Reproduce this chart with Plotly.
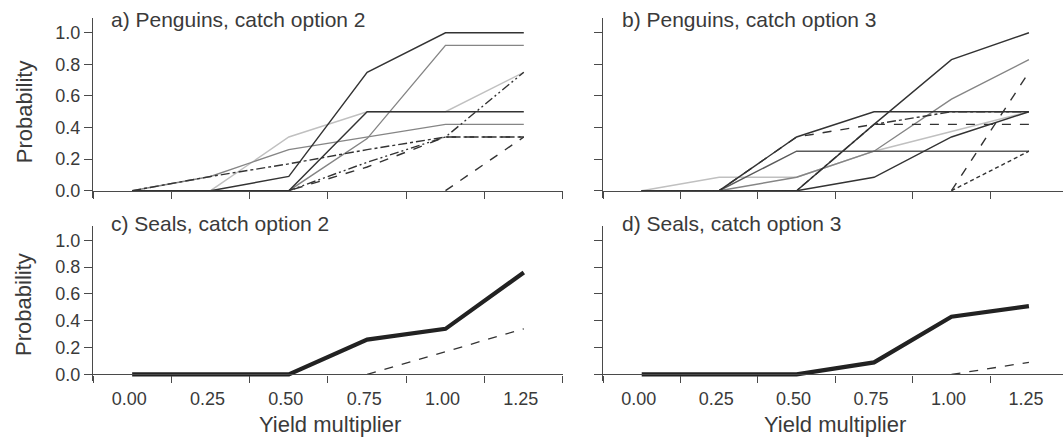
import plotly.graph_objects as go

# ---------------- data ----------------
yield_mult = [0.0, 0.25, 0.5, 0.75, 1.0, 1.25]
x_tick_labels = ["0.00", "0.25", "0.50", "0.75", "1.00", "1.25"]
y_tick_vals = [0.0, 0.2, 0.4, 0.6, 0.8, 1.0]

panel_titles = ["a) Penguins, catch option 2", "b) Penguins, catch option 3",
                "c) Seals, catch option 2", "d) Seals, catch option 3"]

# panel a: Penguins, catch option 2
pa_light1 = [0, 0, 0.34, 0.50, 0.50, 0.75]
pa_gray1 = [0, 0.09, 0.26, 0.34, 0.42, 0.42]
pa_gray2 = [0, 0, 0, 0.33, 0.92, 0.92]
pa_dark1 = [0, 0, 0.09, 0.75, 1.00, 1.00]
pa_dark2 = [0, 0, 0, 0.50, 0.50, 0.50]
pa_dashdot = [0, 0.09, 0.17, 0.26, 0.34, 0.34]
pa_dashdotdot = [0, 0, 0, 0.18, 0.34, 0.75]
pa_dash1 = [0, 0, 0, 0.15, 0.34, 0.34]
pa_dash2 = [None, None, None, None, 0, 0.34]

# panel b: Penguins, catch option 3
pb_light1 = [0, 0.085, 0.085, 0.25, 0.375, 0.50]
pb_gray1 = [0, 0, 0.085, 0.25, 0.58, 0.83]
pb_gray2 = [0, 0, 0.25, 0.25, 0.25, 0.25]
pb_dark1 = [0, 0, 0.34, 0.50, 0.50, 0.50]
pb_dark2 = [0, 0, 0, 0.42, 0.83, 1.00]
pb_dark3 = [0, 0, 0, 0.085, 0.34, 0.50]
pb_dashdot = [0, 0, 0, 0.42, 0.50, 0.50]
pb_dash1 = [0, 0, 0.34, 0.42, 0.42, 0.42]
pb_dash2 = [None, None, None, None, 0, 0.75]
pb_dot = [None, None, None, None, 0, 0.25]

# panel c: Seals, catch option 2
pc_thick = [0, 0, 0, 0.26, 0.34, 0.76]
pc_dash = [None, None, None, 0, 0.17, 0.34]

# panel d: Seals, catch option 3
pd_thick = [0, 0, 0, 0.09, 0.43, 0.51]
pd_dash = [None, None, None, None, 0, 0.09]

# ---------------- styles ----------------
DARK = "#333333"
GRAY = "#858585"
LIGHT = "#c0c0c0"
AXC = "#4a4a4a"
TXT = "#3a3a3a"
FONT = "Liberation Sans, Arial, sans-serif"
DASHDOTDOT = "9px,3px,2px,3px,2px,3px"

fig = go.Figure()

def add(y, axis, color, width=1.4, dash="solid"):
    xa, ya = axis
    fig.add_trace(go.Scatter(x=yield_mult, y=y, mode="lines",
                             line=dict(color=color, width=width, dash=dash),
                             xaxis=xa, yaxis=ya, showlegend=False,
                             hoverinfo="skip", connectgaps=False))

A = ("x", "y"); B = ("x2", "y2"); C = ("x3", "y3"); D = ("x4", "y4")

add(pa_light1, A, LIGHT)
add(pa_gray1, A, GRAY)
add(pa_gray2, A, GRAY)
add(pa_dark2, A, DARK)
add(pa_dark1, A, DARK)
add(pa_dashdot, A, DARK, dash="dashdot")
add(pa_dashdotdot, A, DARK, dash=DASHDOTDOT)
add(pa_dash1, A, DARK, dash="dash")
add(pa_dash2, A, DARK, dash="dash")

add(pb_light1, B, LIGHT)
add(pb_gray1, B, GRAY)
add(pb_gray2, B, "#5a5a5a")
add(pb_dark1, B, DARK)
add(pb_dark2, B, DARK)
add(pb_dark3, B, DARK)
add(pb_dashdot, B, DARK, dash="dashdot")
add(pb_dash1, B, DARK, dash="dash")
add(pb_dash2, B, DARK, dash="dash")
add(pb_dot, B, DARK, dash="4px,3px")

add(pc_dash, C, DARK, width=1.3, dash="dash")
add(pc_thick, C, "#222222", width=4.2)
add(pd_dash, D, DARK, width=1.3, dash="dash")
add(pd_thick, D, "#222222", width=4.2)

W, H = 1063, 440
def px(v):
    return v / W
def py(v):
    return 1 - v / H

# geometry (pixels)
top_zero, top_top, top_scale = 192, 18, 159.0
bot_zero, bot_top, bot_scale = 377, 228, 135.0
below = 7

xdomL = [px(93), px(563)]
xdomR = [px(603), 1.0]
xrangeL = [-0.125, 1.3751]
xrangeR = [-0.125, 1.36]
minor_vals = [-0.125, 0.125, 0.375, 0.625, 0.875, 1.125, 1.375]

def xaxis(dom, rng, pos, labels):
    return dict(domain=dom, range=rng, anchor="free", position=pos,
                showline=True, linecolor=AXC, linewidth=1.2,
                showgrid=False, zeroline=False,
                tickmode="array", tickvals=yield_mult, ticktext=x_tick_labels,
                showticklabels=labels, ticklabelshift=-3,
                ticks="outside", ticklen=8, tickcolor="rgba(0,0,0,0)",
                tickfont=dict(family=FONT, size=18, color=TXT),
                minor=dict(tickmode="array", tickvals=minor_vals, ticks="outside",
                           ticklen=7, tickwidth=1.2, tickcolor=AXC, showgrid=False),
                layer="above traces", fixedrange=True)

def yaxis(dom, rng, xanchor, labels):
    return dict(domain=dom, range=rng, anchor=xanchor,
                showline=True, linecolor=AXC, linewidth=1.2,
                showgrid=False, zeroline=False,
                tickmode="array", tickvals=y_tick_vals,
                tickformat=".1f", showticklabels=labels,
                ticks="outside", ticklen=8, tickwidth=1.2, tickcolor=AXC,
                tickfont=dict(family=FONT, size=18, color=TXT),
                layer="above traces", fixedrange=True)

ydomT = [py(top_zero + below), py(top_top)]
ydomB = [py(bot_zero + below), py(bot_top)]
yrangeT = [-below / top_scale, (top_zero - top_top) / top_scale]
yrangeB = [-below / bot_scale, (bot_zero - bot_top) / bot_scale]

fig.update_layout(
    width=W, height=H, margin=dict(l=0, r=0, t=0, b=0),
    paper_bgcolor="white", plot_bgcolor="white",
    font=dict(family=FONT, color=TXT),
    xaxis=xaxis(xdomL, xrangeL, py(top_zero), False),
    yaxis=yaxis(ydomT, yrangeT, "x", True),
    xaxis2=xaxis(xdomR, xrangeR, py(top_zero), False),
    yaxis2=yaxis(ydomT, yrangeT, "x2", False),
    xaxis3=xaxis(xdomL, xrangeL, py(bot_zero), True),
    yaxis3=yaxis(ydomB, yrangeB, "x3", True),
    xaxis4=xaxis(xdomR, xrangeR, py(bot_zero), True),
    yaxis4=yaxis(ydomB, yrangeB, "x4", False),
)

ann = []
title_pos = [(109, 20), (620, 20), (109, 225), (620, 225)]
for t, (x, y) in zip(panel_titles, title_pos):
    ann.append(dict(text=t, x=px(x), y=py(y), xref="paper", yref="paper",
                    xanchor="left", yanchor="middle", showarrow=False,
                    font=dict(family=FONT, size=21, color=TXT)))
for yc in (113, 307):
    ann.append(dict(text="Probability", x=px(24), y=py(yc), xref="paper", yref="paper",
                    xanchor="center", yanchor="middle", showarrow=False, textangle=-90,
                    font=dict(family=FONT, size=22, color=TXT)))
for xc in (330, 835):
    ann.append(dict(text="Yield multiplier", x=px(xc), y=py(427), xref="paper", yref="paper",
                    xanchor="center", yanchor="middle", showarrow=False,
                    font=dict(family=FONT, size=22, color=TXT)))
fig.update_layout(annotations=ann)

fig.write_html("out.html")
